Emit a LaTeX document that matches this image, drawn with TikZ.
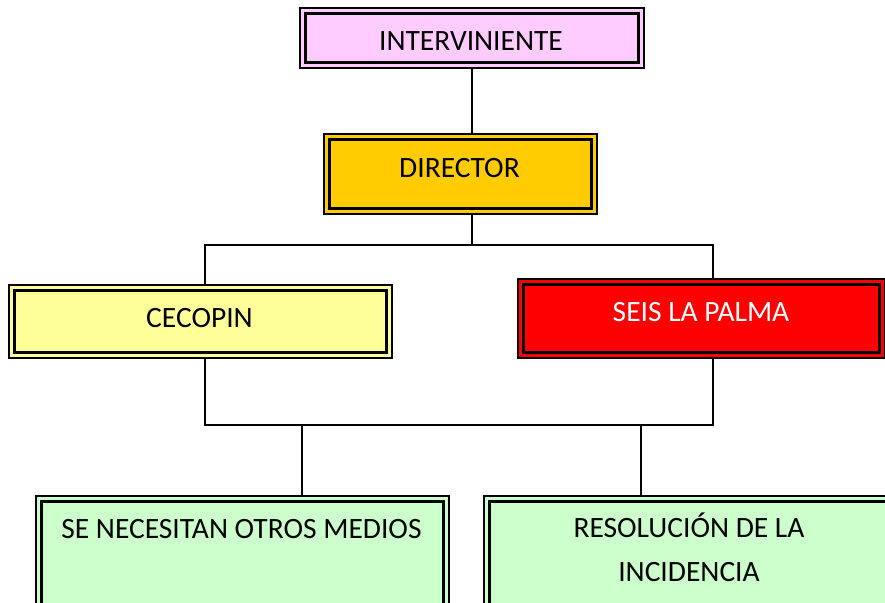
\documentclass[tikz,border=0pt]{standalone}
\usepackage{fontspec}
\setmainfont{Carlito}
\definecolor{cpink}{HTML}{FFCCFF}
\definecolor{cgold}{HTML}{FFCC00}
\definecolor{cyel}{HTML}{FFFF99}
\definecolor{cred}{HTML}{FF0000}
\definecolor{cgreen}{HTML}{CCFFCC}
\tikzset{
  box/.style={draw=black, line width=2pt, fill=#1, rectangle, inner sep=0pt, anchor=north west,
    path picture={\draw[line width=3pt] ([xshift=5.5pt,yshift=-5.5pt]path picture bounding box.north west) rectangle ([xshift=-5.5pt,yshift=5.5pt]path picture bounding box.south east);}},
  txt/.style={anchor=base, font=\fontsize{29.5}{35}\selectfont, inner sep=0pt},
  conn/.style={draw=black, line width=1.8pt}
}
\begin{document}
\begin{tikzpicture}[x=1pt,y=-1pt]
\useasboundingbox (0,0) rectangle (885,602);
\clip (0,0) rectangle (885,602);
% boxes
\node[box=cpink, minimum width=344pt, minimum height=60pt] (intv) at (299,7) {};
\node[box=cgold, minimum width=273pt, minimum height=80pt] (dir) at (323,133) {};
\node[box=cyel, minimum width=383pt, minimum height=73pt] (ceco) at (8,284) {};
\node[box=cred, minimum width=367pt, minimum height=79pt] (seis) at (517,278) {};
\node[box=cgreen, minimum width=413pt, minimum height=125pt] (otros) at (35,495) {};
\node[box=cgreen, minimum width=412pt, minimum height=125pt] (reso) at (483,495) {};
% texts
\node[txt] (tintv) at (471,50) {INTERVINIENTE};
\node[txt] (tdir) at (459.5,177) {DIRECTOR};
\node[txt] (tceco) at (199.5,327) {CECOPIN};
\node[txt, text=white] (tseis) at (701,321) {SEIS LA PALMA};
\node[txt] (totros) at (241.5,538) {SE NECESITAN OTROS MEDIOS};
\node[txt] (treso1) at (689,537) {RESOLUCIÓN DE LA};
\node[txt] (treso2) at (689,581) {INCIDENCIA};
% junction coordinates
\coordinate (jtop) at (472,245);
\coordinate (jbot) at (302,425);
\coordinate (jbot2) at (641,425);
% connectors
\draw[conn] (intv.south -| jtop) -- (dir.north -| jtop);
\draw[conn] (dir.south -| jtop) -- (jtop);
\draw[conn] (ceco.north -| 205,0) -- (205,245) -- (713,245) -- (seis.north -| 713,0);
\draw[conn] (ceco.south -| 205,0) -- (205,425) -- (713,425) -- (seis.south -| 713,0);
\draw[conn] (jbot) -- (otros.north -| jbot);
\draw[conn] (jbot2) -- (reso.north -| jbot2);
\end{tikzpicture}
\end{document}
